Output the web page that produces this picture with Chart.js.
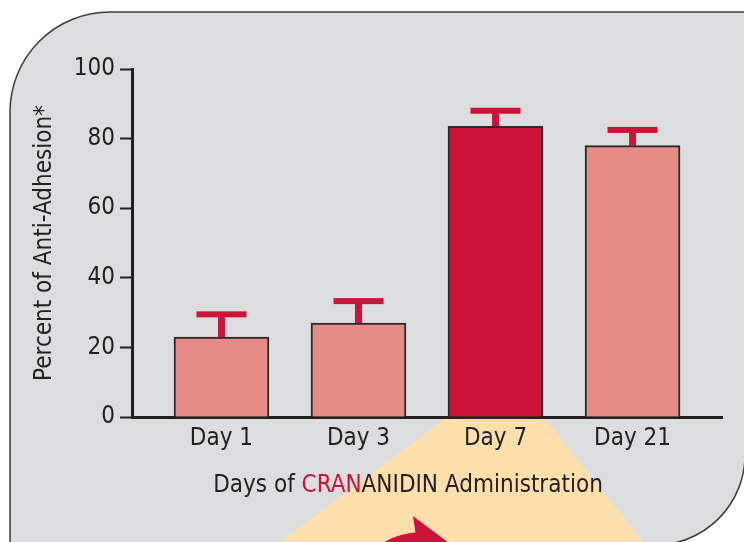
<!DOCTYPE html>
<html>
<head>
<meta charset="utf-8">
<script src="https://cdn.jsdelivr.net/npm/chart.js@4/dist/chart.umd.min.js"></script>
<style>
  html, body { margin: 0; padding: 0; background: #ffffff; }
  #wrap { width: 744px; height: 542px; }
</style>
</head>
<body>
<div id="wrap"><canvas id="my-chart" width="744" height="542"></canvas></div>
<script>
'use strict';

// ***** DATA *****

let dayLabels = ['Day 1', 'Day 3', 'Day 7', 'Day 21'];
let antiAdhesion = [23, 27, 83.5, 78];
let errorUpper = [29.5, 33.3, 88, 82.5];
let yTicks = [0, 20, 40, 60, 80, 100];
let titleParts = ['Days of ', 'CRAN', 'ANIDIN Administration'];

// ***** STYLES *****

let fontFamily = "'DejaVu Sans Condensed', 'Liberation Sans', sans-serif";
let ink = '#231f20';
let red = '#cc1339';
let pink = '#e48c85';
let barColors = [pink, pink, red, pink];

let ctx = document.getElementById('my-chart').getContext('2d');

// ***** PLUGINS *****

// grey rounded panel, peach beam under day 7 and the little arrow
let backdrop = {
  id: 'backdrop',
  beforeDraw(chart){
    let c = chart.ctx;
    c.save();
    c.fillStyle = '#ffffff';
    c.fillRect(0, 0, chart.width, chart.height);

    c.beginPath();
    c.moveTo(10, 560);
    c.lineTo(10, 112);
    c.arcTo(10, 12, 110, 12, 100);
    c.lineTo(760, 12);
    c.lineTo(760, 300);
    c.lineTo(745, 300);
    c.lineTo(745, 455);
    c.arcTo(745, 545, 655, 545, 90);
    c.lineTo(10, 545);
    c.closePath();
    c.fillStyle = '#dcdddf';
    c.fill();
    c.lineWidth = 1.5;
    c.strokeStyle = '#3c3c3c';
    c.stroke();

    let bar = chart.getDatasetMeta(0).data[2];
    let half = bar.width / 2;
    c.beginPath();
    c.moveTo(bar.x - half, bar.base);
    c.lineTo(bar.x + half, bar.base);
    c.lineTo(643, chart.height);
    c.lineTo(280, chart.height);
    c.closePath();
    c.fillStyle = '#fddfab';
    c.fill();

    c.fillStyle = red;
    c.beginPath();
    c.moveTo(383, 543);
    c.quadraticCurveTo(398, 533, 421, 532);
    c.lineTo(428, 543);
    c.closePath();
    c.fill();
    c.beginPath();
    c.moveTo(413, 516);
    c.lineTo(449, 543);
    c.lineTo(418, 550);
    c.closePath();
    c.fill();
    c.restore();
  }
};

let errorBars = {
  id: 'errorBars',
  beforeDatasetsDraw(chart){
    let c = chart.ctx;
    let y = chart.scales.y;
    let bars = chart.getDatasetMeta(0).data;
    c.save();
    c.fillStyle = red;
    for(let i = 0; i < bars.length; i++){
      let top = y.getPixelForValue(errorUpper[i]);
      let x = bars[i].x;
      c.fillRect(x - 3.5, top, 7, bars[i].y - top);
      c.fillRect(x - 25, top - 3, 50, 6);
    }
    c.restore();
  }
};

let xTitle = {
  id: 'xTitle',
  afterDraw(chart){
    let c = chart.ctx;
    c.save();
    c.font = '24px ' + fontFamily;
    c.textBaseline = 'alphabetic';
    let colors = [ink, red, ink];
    let total = 0;
    for(let i = 0; i < titleParts.length; i++){
      total += c.measureText(titleParts[i]).width;
    }
    let x = 408 - total / 2;
    for(let i = 0; i < titleParts.length; i++){
      c.fillStyle = colors[i];
      c.fillText(titleParts[i], x, 492);
      x += c.measureText(titleParts[i]).width;
    }
    c.restore();
  }
};

// ***** CHART *****

let myChartObj = {
  type: 'bar',
  data: {
    datasets: [{
      data: dayLabels.map((d, i) => ({x: i, y: antiAdhesion[i]})),
      backgroundColor: barColors,
      borderColor: '#2a2a2a',
      borderWidth: 2,
      barThickness: 95
    }]
  },
  options: {
    responsive: false,
    animation: false,
    layout: { padding: { top: 69, right: 22, left: 0, bottom: 0 } },
    plugins: {
      legend: { display: false },
      tooltip: { enabled: false }
    },
    scales: {
      x: {
        type: 'linear',
        offset: false,
        min: -0.653,
        max: 3.653,
        afterFit(scale){ scale.height = 125; },
        afterBuildTicks(scale){
          scale.ticks = dayLabels.map((d, i) => ({value: i}));
        },
        ticks: {
          autoSkip: false,
          maxRotation: 0,
          padding: 7,
          color: ink,
          font: { family: fontFamily, size: 24 },
          callback: (v) => dayLabels[v]
        },
        grid: { display: false, drawTicks: false, offset: false },
        border: { display: true, color: ink, width: 3 }
      },
      y: {
        min: 0,
        max: 100,
        afterFit(scale){ scale.width = 132; },
        afterBuildTicks(scale){
          scale.ticks = yTicks.map(v => ({value: v}));
        },
        ticks: {
          padding: 5,
          color: ink,
          font: { family: fontFamily, size: 24 }
        },
        grid: {
          drawOnChartArea: false,
          drawTicks: true,
          tickLength: 12,
          tickWidth: 2,
          tickColor: ink
        },
        border: { display: true, color: ink, width: 3 },
        title: {
          display: true,
          text: 'Percent of Anti-Adhesion*',
          color: ink,
          font: { family: fontFamily, size: 24 },
          padding: { top: 30, bottom: 0 }
        }
      }
    }
  },
  plugins: [backdrop, errorBars, xTitle]
};

new Chart(ctx, myChartObj);
</script>
</body>
</html>
